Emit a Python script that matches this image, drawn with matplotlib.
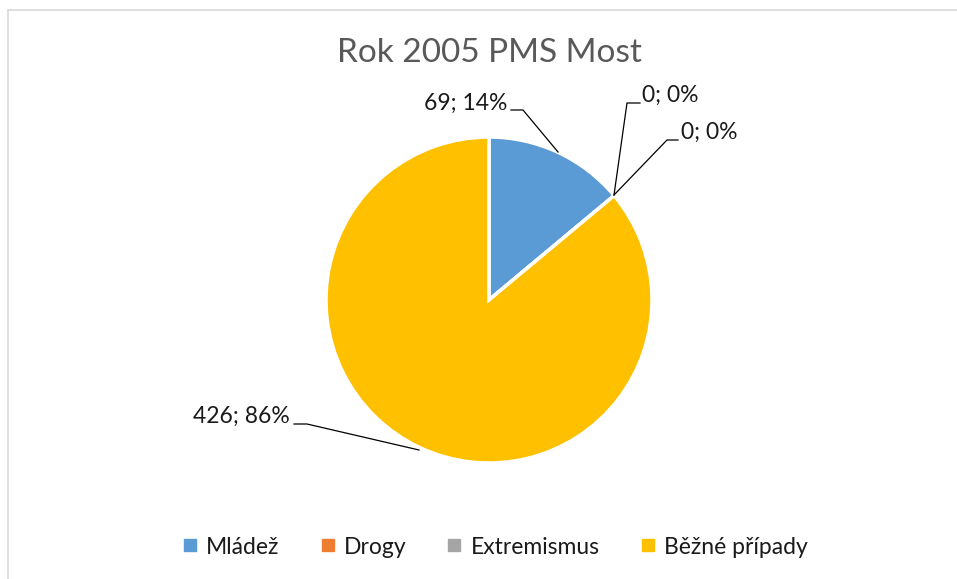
import matplotlib
matplotlib.use("Agg")
import matplotlib.pyplot as plt
from matplotlib.lines import Line2D

# data
categories = ["Mládež", "Drogy", "Extremismus", "Běžné případy"]
values = [69, 0, 0, 426]
labels = ["69; 14%", "0; 0%", "0; 0%", "426; 86%"]
colors = ["#5B9BD5", "#ED7D31", "#A5A5A5", "#FFC000"]

W, H = 957, 579
plt.rcParams["font.family"] = ["Lato", "DejaVu Sans"]

fig = plt.figure(figsize=(W / 100, H / 100), dpi=100)
ax = fig.add_axes([0, 0, 1, 1])

# pixel y (from top) -> data y
def py(y):
    return H - y

cx, cy, r = 489, py(300), 163
ax.pie(values, colors=colors, startangle=90, counterclock=False,
       center=(cx, cy), radius=r, frame=True,
       wedgeprops=dict(edgecolor="white", linewidth=2.5))
ax.set_xlim(0, W)
ax.set_ylim(0, H)
ax.set_aspect("equal")
ax.axis("off")

# leader lines + labels (label positions as in the reference)
lc = "#000000"
tc = "#1a1a1a"
fs = 16.5
# 69; 14%
ax.plot([558, 523, 511], [py(152), py(110), py(110)], color=lc, lw=0.9)
ax.text(507, py(103), labels[0], ha="right", va="center", fontsize=fs, color=tc)
# 0; 0% (Drogy)
ax.plot([614, 627, 640], [py(195), py(103), py(103)], color=lc, lw=0.9)
ax.text(642, py(95), labels[1], ha="left", va="center", fontsize=fs, color=tc)
# 0; 0% (Extremismus)
ax.plot([614, 667, 678], [py(195), py(140), py(140)], color=lc, lw=0.9)
ax.text(681, py(132), labels[2], ha="left", va="center", fontsize=fs, color=tc)
# 426; 86%
ax.plot([419, 307, 294], [py(450), py(424), py(424)], color=lc, lw=0.9)
ax.text(290, py(416), labels[3], ha="right", va="center", fontsize=fs, color=tc)

# title
fig.text(489 / W, 1 - 53 / H, "Rok 2005 PMS Most", ha="center", va="center",
         fontsize=24, color="#595959")

# legend
handles = [Line2D([], [], marker="s", linestyle="none", markersize=9,
                  markerfacecolor=c, markeredgecolor=c) for c in colors]
fig.legend(handles, categories, loc="center", ncol=4,
           bbox_to_anchor=(493 / W, 1 - 547 / H), frameon=False,
           fontsize=fs, handletextpad=0.2, columnspacing=1.6,
           handlelength=1.0, labelcolor="#1a1a1a")

# chart border (only top and left edges are visible)
fig.add_artist(Line2D([8 / W, 8 / W], [0, 1 - 10 / H], color="#D9D9D9", lw=1.2,
                      transform=fig.transFigure))
fig.add_artist(Line2D([8 / W, 1], [1 - 10 / H, 1 - 10 / H], color="#D9D9D9", lw=1.2,
                      transform=fig.transFigure))

fig.savefig("out.png", dpi=100)
